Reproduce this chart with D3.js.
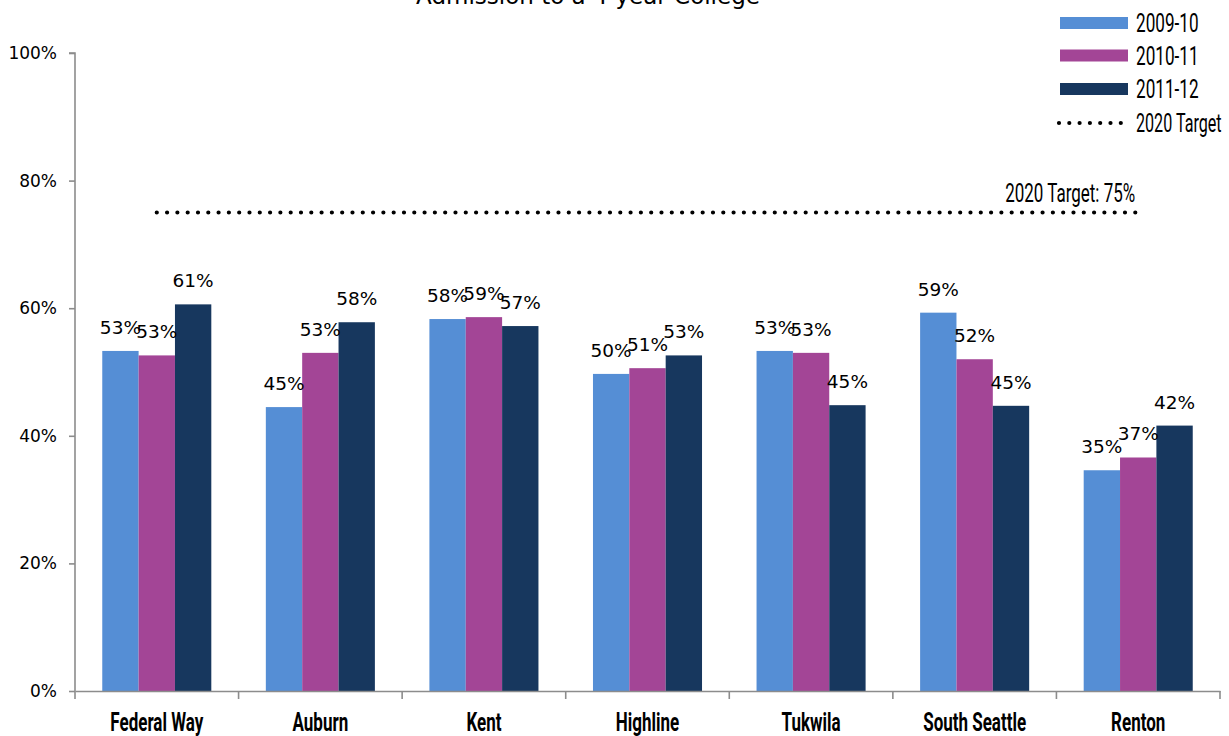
<!DOCTYPE html>
<html>
<head>
<meta charset="utf-8">
<script src="https://cdn.jsdelivr.net/npm/d3@7"></script>
<style>
  html, body { margin: 0; padding: 0; background: #fff; }
  svg { display: block; }
</style>
</head>
<body>
<svg id="chart" width="1229" height="736"></svg>
<script>
const title = "Admission to a 4-year College";
const categories = ["Federal Way", "Auburn", "Kent", "Highline", "Tukwila", "South Seattle", "Renton"];
const seriesNames = ["2009-10", "2010-11", "2011-12"];
const values2009 = [0.533, 0.445, 0.583, 0.497, 0.533, 0.593, 0.346];
const values2010 = [0.526, 0.530, 0.586, 0.506, 0.530, 0.520, 0.366];
const values2011 = [0.606, 0.578, 0.572, 0.526, 0.448, 0.447, 0.416];
const targetValue = 0.75;
const targetLabel = "2020 Target: 75%";
const targetLegend = "2020 Target";
const yTicks = [0, 0.2, 0.4, 0.6, 0.8, 1.0];
const colors = ["#558ED5", "#A34596", "#17375E"];

const seriesValues = [values2009, values2010, values2011];
const rows = categories.map((c, i) => ({
  cat: c,
  vals: seriesNames.map((s, j) => ({ series: s, idx: j, value: seriesValues[j][i] }))
}));

const svg = d3.select("#chart");
const mLeft = 75, mRight = 1220, mTop = 53, mBottom = 691;

const x0 = d3.scaleBand().domain(categories).range([mLeft, mRight]).paddingInner(0).paddingOuter(0);
const bw = x0.bandwidth();
const x1 = d3.scaleBand().domain(seriesNames).range([bw / 6, bw * 5 / 6]).padding(0);
const y = d3.scaleLinear().domain([0, 1]).range([mBottom, mTop]);

const labelFont = "'DejaVu Sans', 'Noto Sans', sans-serif";
const narrowFont = "Roboto, 'Noto Sans', sans-serif";

// condensed text helper: horizontally compressed Roboto
function narrowText(parent, x, yy, txt, size, anchor, weight, sx) {
  const g = parent.append("g").attr("transform", `translate(${x},${yy}) scale(${sx || 0.68},1)`);
  g.append("text")
    .attr("x", 0).attr("y", 0)
    .attr("text-anchor", anchor || "start")
    .style("font-family", narrowFont)
    .style("font-size", size + "px")
    .style("font-weight", weight || "normal")
    .attr("fill", "#000")
    .text(txt);
  return g;
}

// Title (partially cut off at top)
svg.append("text")
  .attr("x", 588).attr("y", 4)
  .attr("text-anchor", "middle")
  .style("font-family", labelFont)
  .style("font-size", "23px")
  .attr("fill", "#000")
  .text(title);

// Y axis
const yAxis = svg.append("g")
  .attr("transform", `translate(${mLeft},0)`)
  .call(d3.axisLeft(y).tickValues(yTicks).tickFormat(d3.format(".0%")).tickSize(6).tickPadding(12));
yAxis.select(".domain").attr("stroke", "#8c8c8c").attr("stroke-width", 1.6)
  .attr("d", `M-6,${mTop}H0V${mBottom}`);
yAxis.selectAll(".tick line").attr("stroke", "#8c8c8c").attr("stroke-width", 1.6);
yAxis.selectAll(".tick text")
  .style("font-family", labelFont)
  .style("font-size", "17px")
  .attr("fill", "#000");

// Bars
const groups = svg.append("g").selectAll("g")
  .data(rows).join("g")
  .attr("transform", d => `translate(${x0(d.cat)},0)`);

groups.selectAll("rect")
  .data(d => d.vals).join("rect")
  .attr("x", d => x1(d.series))
  .attr("width", x1.bandwidth())
  .attr("y", d => y(d.value))
  .attr("height", d => y(0) - y(d.value))
  .attr("fill", d => colors[d.idx]);

groups.selectAll("text.lbl")
  .data(d => d.vals).join("text")
  .attr("class", "lbl")
  .attr("x", d => x1(d.series) + x1.bandwidth() / 2)
  .attr("y", d => y(d.value) - 17)
  .attr("text-anchor", "middle")
  .style("font-family", labelFont)
  .style("font-size", "18.5px")
  .attr("fill", "#000")
  .text(d => d3.format(".0%")(d.value));

// X axis
const xAxis = svg.append("g")
  .attr("transform", `translate(0,${mBottom})`)
  .call(d3.axisBottom(x0).tickSize(0).tickFormat(""));
xAxis.select(".domain").attr("stroke", "#8c8c8c").attr("stroke-width", 1.6);
xAxis.selectAll(".tick").each(function(d) {
  narrowText(d3.select(this), 0, 40, d, 25, "middle", "bold");
});
const boundaries = categories.map(c => x0(c)).concat([x0.range()[1]]);
xAxis.selectAll("line.bnd").data(boundaries).join("line")
  .attr("class", "bnd")
  .attr("x1", d => d).attr("x2", d => d)
  .attr("y1", 0).attr("y2", 8)
  .attr("stroke", "#8c8c8c").attr("stroke-width", 1.6);

// Target line
const tx1 = x0(categories[0]) + bw / 2;
const tx2 = x0(categories[categories.length - 1]) + bw / 2;
svg.append("line")
  .attr("x1", tx1).attr("x2", tx2)
  .attr("y1", y(targetValue)).attr("y2", y(targetValue))
  .attr("stroke", "#000").attr("stroke-width", 4.2)
  .attr("stroke-linecap", "round")
  .attr("stroke-dasharray", "0 10.3");
narrowText(svg, tx2 - 3, y(targetValue) - 11, targetLabel, 25, "end");

// Legend
const legend = svg.append("g");
const legY = [23, 55.5, 89];
seriesNames.forEach((s, i) => {
  legend.append("rect")
    .attr("x", 1060).attr("y", legY[i] - 6)
    .attr("width", 68).attr("height", 12)
    .attr("fill", colors[i]);
  narrowText(legend, 1136, legY[i] + 9, s, 26, "start", "normal", 0.66);
});
legend.append("line")
  .attr("x1", 1059).attr("x2", 1121)
  .attr("y1", 123).attr("y2", 123)
  .attr("stroke", "#000").attr("stroke-width", 4.2)
  .attr("stroke-linecap", "round")
  .attr("stroke-dasharray", "0 10.3");
narrowText(legend, 1136, 132, targetLegend, 26, "start", "normal", 0.62);
</script>
</body>
</html>
